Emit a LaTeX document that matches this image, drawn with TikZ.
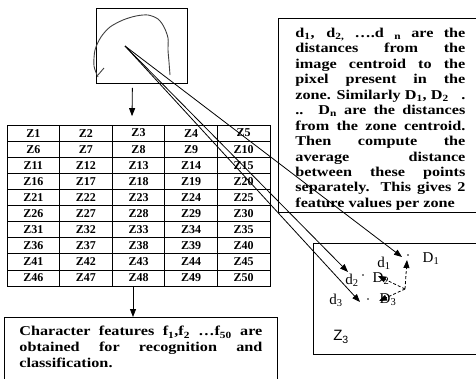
\documentclass[tikz,border=0pt]{standalone}
\usepackage{fontspec}
\setmainfont{Liberation Serif}
\setsansfont{Liberation Sans}
\newfontfamily\wideserif[FakeStretch=1.2]{Liberation Serif}
\usetikzlibrary{arrows.meta, positioning, fit}
\hbadness=10000

\begin{document}
\begin{tikzpicture}[x=1pt, y=-1pt, line width=0.8pt,
    box/.style={draw, line width=0.8pt},
    cell/.style={draw, minimum width=52.6pt, minimum height=16.1pt, inner sep=0pt,
      font=\fontsize{12}{12}\selectfont\bfseries},
    para/.style={box, anchor=north west, align=justify,
      font=\wideserif\bfseries\fontsize{13.5}{15.45}\selectfont},
    lbl/.style={inner sep=0pt, font=\fontsize{15}{15}\selectfont},
    arr/.style={-{Triangle[length=8pt, width=6pt]}},
    dasharr/.style={arr, dash pattern=on 3pt off 2pt}]
  \useasboundingbox (0,0) rectangle (476,378);
  \clip (0,0) rectangle (476,378);

  % character image
  \node[box, anchor=north west, minimum width=91pt, minimum height=75pt] (img) at (96,8) {};
  \draw[black!75, line width=0.9pt] plot[smooth] coordinates {(98,77) (94,66) (95,50) (101,37)
    (110,27) (123,20) (136,16) (148,15) (158,19) (164,27) (168,38) (168,50) (169,62) (170,75)};
  \draw[black!75, line width=0.9pt] (98,75) -- (104,68);
  \coordinate (ic) at (125,46);

  % zone table
  \foreach \r in {0,...,9}
    \foreach \c in {1,...,5} {
      \pgfmathtruncatemacro\k{5*\r+\c}
      \node[cell] (z\k) at (7+52.6*\c-26.3, 125+16.1*\r+8.05) {Z\k};
    }
  \node[fit=(z1)(z50), inner sep=0pt] (tbl) {};

  % description
  \node[para, text width=170pt, inner xsep=17pt, inner ysep=0pt, minimum height=194pt] (desc) at (278,18) {%
    \rule{0pt}{17pt}d\textsubscript{1}, d\textsubscript{2,} \dots.d \textsubscript{n} are the\linebreak
    distances from the\linebreak
    image centroid to the\linebreak
    pixel present in the\linebreak
    zone. Similarly D\textsubscript{1}, D\textsubscript{2} \ \ .\linebreak
    .. D\textsubscript{n} are the distances\linebreak
    from the zone centroid.\linebreak
    Then compute the\linebreak
    average distance\linebreak
    between these points\linebreak
    separately. This gives 2\linebreak
    feature values per zone};

  % features
  \node[para, text width=243pt, inner xsep=15pt, inner ysep=9pt, text depth=40pt,
    font=\wideserif\bfseries\fontsize{13.5}{16}\selectfont] (feat) at (4,317) {%
    Character features f\textsubscript{1},f\textsubscript{2} \dots f\textsubscript{50} are\linebreak
    obtained for recognition and\linebreak
    classification.};

  \draw[arr] ([xshift=-9.5pt, yshift=-4pt]img.south) -- ([xshift=-6.5pt, yshift=8pt]tbl.north);
  \draw[arr] ([xshift=-5.5pt]tbl.south) -- ([xshift=-5.5pt]tbl.south |- feat.north);

  % zone detail
  \node[box, anchor=north west, minimum width=180pt, minimum height=111pt] (zone) at (313,243) {};
  \coordinate (t1) at (402,257);
  \coordinate (t2) at (348,272);
  \coordinate (t3) at (360,302);
  \coordinate (p1) at (408,255);
  \coordinate (p2) at (363,275);
  \coordinate (p3) at (368,299);
  \coordinate (zc) at (405,289);
  \coordinate (c1) at (407,260);
  \coordinate (c2) at (378,276);
  \coordinate (c3) at (379,301);

  \draw[dasharr] (zc) -- (c1);
  \draw[dasharr] (zc) -- (c2);
  \draw[dasharr] (zc) -- (c3);
  \foreach \p in {p1,p2,p3}
    \fill (\p) circle (0.9pt);

  \node[lbl] (d1) at (384,263) {d\textsubscript{1}};
  \node[lbl] (D1) at (431,259) {D\textsubscript{1}};
  \node[lbl] (d2) at (352,280) {d\textsubscript{2}};
  \node[lbl] (D2) at (381,279) {D\textsubscript{2}};
  \node[lbl] (d3) at (336,300) {d\textsubscript{3}};
  \node[lbl] (D3) at (388,300) {D\textsubscript{3}};
  \node[lbl, font=\sffamily\fontsize{15}{15}\selectfont] (z3) at (341,337) {Z\textsubscript{3}};

  \draw[arr] (ic) -- (t1);
  \draw[arr] (ic) -- (t2);
  \draw[arr] (ic) -- (t3);
\end{tikzpicture}
\end{document}
